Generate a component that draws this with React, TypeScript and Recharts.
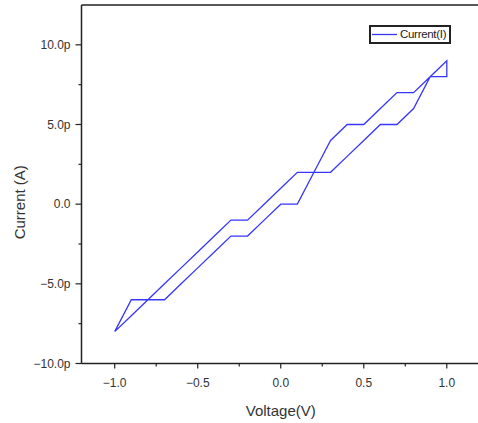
import React from 'react';
import { LineChart, Line, XAxis, YAxis, ReferenceLine, Legend } from 'recharts';

// I-V sweep, current in pA
const forwardVoltage = [-1.0, -0.9, -0.8, -0.7, -0.6, -0.5, -0.4, -0.3, -0.2, -0.1, 0.0, 0.1, 0.2, 0.3, 0.4, 0.5, 0.6, 0.7, 0.8, 0.9, 1.0];
const forwardCurrent = [-8, -7, -6, -5, -4, -3, -2, -1, -1, 0, 1, 2, 2, 2, 3, 4, 5, 5, 6, 8, 9];
const reverseVoltage = [1.0, 0.9, 0.8, 0.7, 0.6, 0.5, 0.4, 0.3, 0.2, 0.1, 0.0, -0.1, -0.2, -0.3, -0.4, -0.5, -0.6, -0.7, -0.8, -0.9, -1.0];
const reverseCurrent = [8, 8, 7, 7, 6, 5, 5, 4, 2, 0, 0, -1, -2, -2, -3, -4, -5, -6, -6, -6, -8];

const xTicks = [-1, -0.75, -0.5, -0.25, 0, 0.25, 0.5, 0.75, 1];
const xMajor = [-1, -0.5, 0, 0.5, 1];
const yTicks = [-10, -7.5, -5, -2.5, 0, 2.5, 5, 7.5, 10];
const yMajor = [-10, -5, 0, 5, 10];

const data = [
  ...forwardVoltage.map((v, i) => ({ v, i: forwardCurrent[i] })),
  ...reverseVoltage.map((v, i) => ({ v, i: reverseCurrent[i] })),
];

const FONT = '"Liberation Sans", Arial, sans-serif';
const INK = '#222';
const BLUE = '#3636ff';

const minus = (s: string) => s.replace('-', '\u2212');
const fmtX = (v: number) => minus(v.toFixed(1));
const fmtY = (v: number) => (v === 0 ? '0.0' : minus(v.toFixed(1)) + 'p');

const YTick = (props: any) => {
  const { x, y, payload } = props;
  const major = yMajor.includes(payload.value);
  return (
    <g>
      <line x1={x} x2={x - (major ? 6 : 3)} y1={y} y2={y} stroke={INK} strokeWidth={1.2} />
      {major && (
        <text x={x - 11} y={y + 4} textAnchor="end" fontSize={12} fontFamily={FONT} fill="#333">
          {fmtY(payload.value)}
        </text>
      )}
    </g>
  );
};

const XTick = (props: any) => {
  const { x, y, payload } = props;
  const major = xMajor.includes(payload.value);
  return (
    <g>
      <line x1={x} x2={x} y1={y} y2={y + (major ? 5 : 3)} stroke={INK} strokeWidth={1.2} />
      {major && (
        <text x={x} y={y + 23} textAnchor="middle" fontSize={12} fontFamily={FONT} fill="#333">
          {fmtX(payload.value)}
        </text>
      )}
    </g>
  );
};

const LegendBox = () => (
  <div
    style={{
      border: `2px solid ${INK}`,
      width: 78,
      height: 15,
      display: 'flex',
      alignItems: 'center',
      background: '#fff',
      fontFamily: FONT,
      fontSize: 11.5,
      color: '#222',
      lineHeight: '15px',
    }}
  >
    <svg width={29} height={15} style={{ display: 'block' }}>
      <line x1={1} x2={26} y1={7.5} y2={7.5} stroke={BLUE} strokeWidth={1.3} />
    </svg>
    <span style={{ letterSpacing: -0.3 }}>Current(I)</span>
  </div>
);

export default function App() {
  return (
    <div
      style={{
        position: 'fixed',
        left: 0,
        top: 0,
        width: 478,
        height: 423,
        overflow: 'hidden',
        background: '#fff',
      }}
    >
      <LineChart width={490} height={423} data={data} margin={{ top: 5, right: 10, bottom: 0, left: 0 }}>
        <XAxis
          dataKey="v"
          type="number"
          domain={[-1.2, 1.2]}
          ticks={xTicks}
          interval={0}
          allowDataOverflow
          height={59.5}
          axisLine={{ stroke: INK, strokeWidth: 1.5 }}
          tickLine={false}
          tickSize={0}
          tickMargin={0}
          tick={<XTick />}
          label={{
            value: 'Voltage(V)',
            position: 'insideBottom',
            offset: 7,
            style: { fontFamily: FONT, fontSize: 15, fill: '#333' },
          }}
        />
        <YAxis
          type="number"
          domain={[-10, 12.5]}
          ticks={yTicks}
          interval={0}
          allowDataOverflow
          width={81.5}
          axisLine={{ stroke: INK, strokeWidth: 1.5 }}
          tickLine={false}
          tickSize={0}
          tickMargin={0}
          tick={<YTick />}
          label={{
            content: (p: any) => {
              const vb = p.viewBox || {};
              const cx = 19;
              const cy = (vb.y ?? 0) + (vb.height ?? 0) / 2 + 18;
              return (
                <text
                  x={cx}
                  y={cy}
                  transform={`rotate(-90 ${cx} ${cy})`}
                  textAnchor="middle"
                  dominantBaseline="central"
                  fontFamily={FONT}
                  fontSize={15}
                  fill="#333"
                >
                  Current (A)
                </text>
              );
            },
          }}
        />
        <ReferenceLine y={12.5} stroke={INK} strokeWidth={1.5} />
        <Legend
          layout="horizontal"
          verticalAlign="middle"
          align="center"
          content={() => <LegendBox />}
          wrapperStyle={{ position: 'absolute', left: 369, top: 25, width: 'auto' }}
        />
        <Line
          dataKey="i"
          name="Current(I)"
          type="linear"
          stroke={BLUE}
          strokeWidth={1.3}
          dot={false}
          isAnimationActive={false}
        />
      </LineChart>
    </div>
  );
}
